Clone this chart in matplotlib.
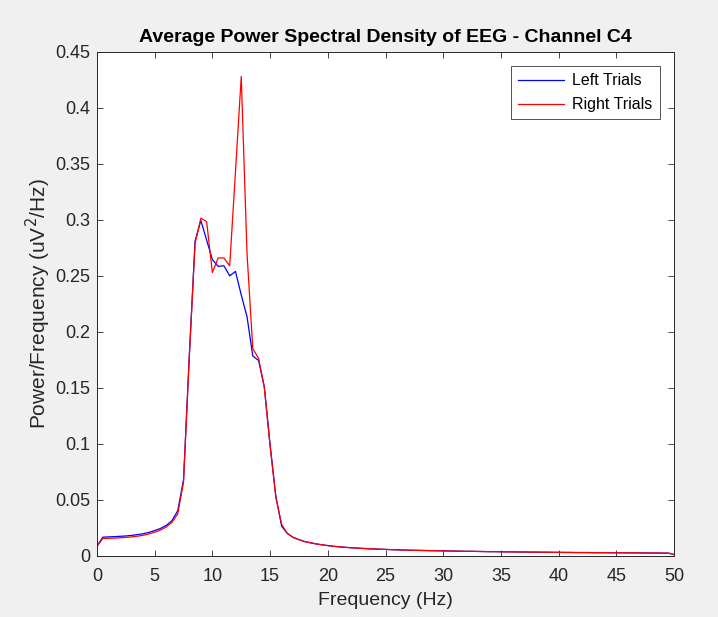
import numpy as np
import matplotlib
matplotlib.use("Agg")
import matplotlib.pyplot as plt

plt.rcParams['font.family'] = ['Liberation Sans', 'DejaVu Sans']

# Frequency grid (0.5 Hz resolution)
freqs = np.arange(0, 50.5, 0.5)

# Values, 0 .. 16 Hz
left_low = [0.0085, 0.0167, 0.0170, 0.0172, 0.0175, 0.0178, 0.0183, 0.0190,
            0.0198, 0.0210, 0.0226, 0.0245, 0.0272, 0.0315, 0.0404, 0.068,
            0.178, 0.281, 0.2995, 0.282, 0.2645, 0.2585, 0.259, 0.250,
            0.254, 0.233, 0.2135, 0.1785, 0.1745, 0.151, 0.099, 0.053,
            0.0265]
right_low = [0.0085, 0.0155, 0.0157, 0.0159, 0.0162, 0.0165, 0.0170, 0.0176,
             0.0184, 0.0196, 0.0212, 0.0231, 0.0258, 0.0300, 0.0375, 0.066,
             0.178, 0.279, 0.3015, 0.2985, 0.253, 0.266, 0.266, 0.259,
             0.343, 0.428, 0.270, 0.185, 0.1765, 0.150, 0.098, 0.052,
             0.028]

# 16.5 .. 50 Hz tail (both conditions overlap here)
tail = [0.0200, 0.0165, 0.0145, 0.0128, 0.0117, 0.0107, 0.0099, 0.0092,
        0.0086, 0.0081, 0.0077, 0.0073, 0.0070, 0.0067, 0.0064, 0.0062,
        0.0060, 0.0058, 0.0056, 0.0054, 0.0053, 0.0051, 0.0050, 0.0049,
        0.0048, 0.0047, 0.0046, 0.0045, 0.0044, 0.0043, 0.0042, 0.0041,
        0.0041, 0.0040, 0.0039, 0.0038, 0.0038, 0.0037, 0.0036, 0.0036,
        0.0035, 0.0035, 0.0034, 0.0034, 0.0033, 0.0033, 0.0032, 0.0032,
        0.0031, 0.0031, 0.0030, 0.0030, 0.0030, 0.0029, 0.0029, 0.0029,
        0.0028, 0.0028, 0.0028, 0.0027, 0.0027, 0.0027, 0.0026, 0.0026,
        0.0026, 0.0025, 0.0025, 0.0012]

left_psd = np.array(left_low + tail)
right_psd = np.array(right_low + tail)

x_ticks = list(range(0, 55, 5))
y_ticks = [0, 0.05, 0.1, 0.15, 0.2, 0.25, 0.3, 0.35, 0.4, 0.45]
y_labels = ['0', '0.05', '0.1', '0.15', '0.2', '0.25', '0.3', '0.35', '0.4', '0.45']

fig = plt.figure(figsize=(7.18, 6.17), dpi=100, facecolor='#f0f0f0')
ax = fig.add_axes([0.135, 0.099, 0.804, 0.817])

ax.plot(freqs, left_psd, color='#0000ff', lw=0.9, label='Left Trials')
ax.plot(freqs, right_psd, color='#ff0000', lw=0.9, label='Right Trials')

ax.set_xlim(0, 50)
ax.set_ylim(0, 0.45)
ax.set_xticks(x_ticks)
ax.set_yticks(y_ticks)
ax.set_yticklabels(y_labels)
ax.tick_params(direction='in', top=True, right=True, length=4, width=0.6,
               labelsize=13, colors='#262626', pad=5)
ax.tick_params(axis='x', pad=9)
for s in ax.spines.values():
    s.set_color('#262626')
    s.set_linewidth(0.7)

ax.set_title('Average Power Spectral Density of EEG - Channel C4',
             fontsize=14, fontweight='bold', pad=7)
ax.set_xlabel('Frequency (Hz)', fontsize=14, color='#262626', labelpad=5)
ax.set_ylabel('Power/Frequency (uV$^2$/Hz)', fontsize=15, color='#262626',
              labelpad=1)

leg = ax.legend(loc='upper right', fontsize=11.5, frameon=True, fancybox=False,
                borderaxespad=0.9, handlelength=2.9, handletextpad=0.5,
                borderpad=0.45, labelspacing=0.55)
leg.get_frame().set_edgecolor('#262626')
leg.get_frame().set_linewidth(0.7)

fig.savefig('out.png', dpi=100, facecolor=fig.get_facecolor())
